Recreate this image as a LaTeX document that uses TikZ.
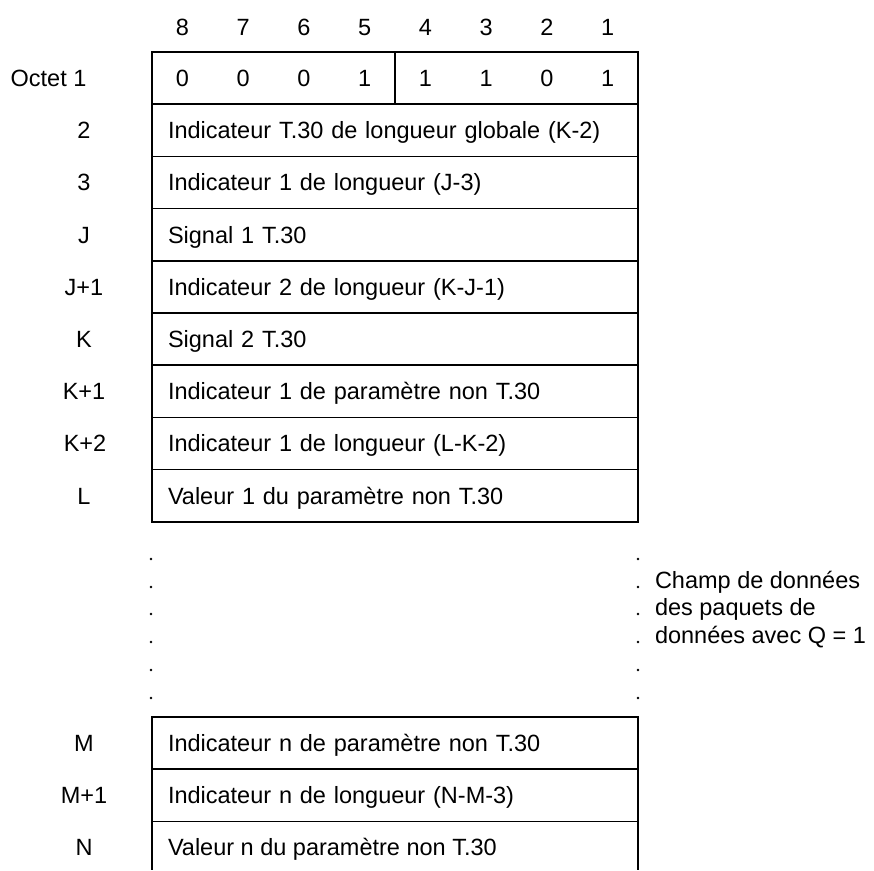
\documentclass[tikz,border=0pt]{standalone}
\usepackage{fontspec}
\setmainfont{Liberation Sans}
\begin{document}
\begin{tikzpicture}[x=1pt,y=1pt,
  every node/.style={font=\fontsize{23.5}{28}\selectfont, inner sep=0pt, outer sep=0pt, text height=21pt, text depth=4.2pt},
  rowbox/.style={draw, line width=1.7pt, anchor=north west, minimum width=486pt, minimum height=52.2pt, text width=454pt, inner xsep=16pt, inner ysep=0pt, align=left},
  frame/.style={line width=1.7pt},
  lab/.style={anchor=center},
  dot/.style={circle, fill, minimum size=2.6pt, inner sep=0pt, text height=, text depth=},
  side/.style={anchor=base west}]
\useasboundingbox (0,0) rectangle (874,-870);
% bit headers
\foreach \b [count=\i from 0] in {8,7,6,5,4,3,2,1}
  \node (h\b) at (182.4+\i*60.75,-27) {\b};
% octet 1
\node[rowbox] (r1) at (152,-52) {};
\draw[frame] (r1.north) -- (r1.south);
\foreach \v [count=\i from 0] in {0,0,0,1,1,1,0,1}
  \node (b\i) at (182.4+\i*60.75,-78.1) {\v};
\node[lab] (l1) at (48.5,-78.1) {Octet 1};
% rows
\newcommand\rowy[1]{-52-#1*52.2}
\node[rowbox] (r2) at (152,{\rowy{1}}) {Indicateur T.30 de longueur globale (K-2)};
\node[rowbox] (r3) at (152,{\rowy{2}}) {Indicateur 1 de longueur (J-3)};
\node[rowbox] (r4) at (152,{\rowy{3}}) {Signal 1 T.30};
\node[rowbox] (r5) at (152,{\rowy{4}}) {Indicateur 2 de longueur (K-J-1)};
\node[rowbox] (r6) at (152,{\rowy{5}}) {Signal 2 T.30};
\node[rowbox] (r7) at (152,{\rowy{6}}) {Indicateur 1 de paramètre non T.30};
\node[rowbox] (r8) at (152,{\rowy{7}}) {Indicateur 1 de longueur (L-K-2)};
\node[rowbox] (r9) at (152,{\rowy{8}}) {Valeur 1 du paramètre non T.30};
\node[lab] (l2) at (84,{\rowy{1}-26.1}) {2};
\node[lab] (l3) at (84,{\rowy{2}-26.1}) {3};
\node[lab] (l4) at (84,{\rowy{3}-26.1}) {J};
\node[lab] (l5) at (84,{\rowy{4}-26.1}) {J+1};
\node[lab] (l6) at (84,{\rowy{5}-26.1}) {K};
\node[lab] (l7) at (84,{\rowy{6}-26.1}) {K+1};
\node[lab] (l8) at (85,{\rowy{7}-26.1}) {K+2};
\node[lab] (l9) at (84,{\rowy{8}-26.1}) {L};
% dots
\foreach \y [count=\i] in {559,587,614,642,670,698} {
  \node[dot] (dl\i) at (151,-\y) {};
  \node[dot] (dr\i) at (638,-\y) {};
}
\node[side] (c1) at (655,-588.5) {Champ de données};
\node[side] (c2) at (655,-615.5) {des paquets de};
\node[side] (c3) at (655,-643.5) {données avec Q = 1};
% bottom
\node[rowbox] (rm) at (152,-717) {Indicateur n de paramètre non T.30};
\node[rowbox] (rm1) at (152,-769.2) {Indicateur n de longueur (N-M-3)};
\coordinate (nbl) at (152,-870);
\coordinate (nbr) at (638,-870);
\draw[frame] (rm1.south west) -- (nbl);
\draw[frame] (rm1.south east) -- (nbr);
\node[anchor=west] (rn) at (168,-847.5) {Valeur n du paramètre non T.30};
\node[lab] (lm) at (84,-743.1) {M};
\node[lab] (lm1) at (84,-795.3) {M+1};
\node[lab] (ln) at (84,-847.5) {N};
\end{tikzpicture}
\end{document}
